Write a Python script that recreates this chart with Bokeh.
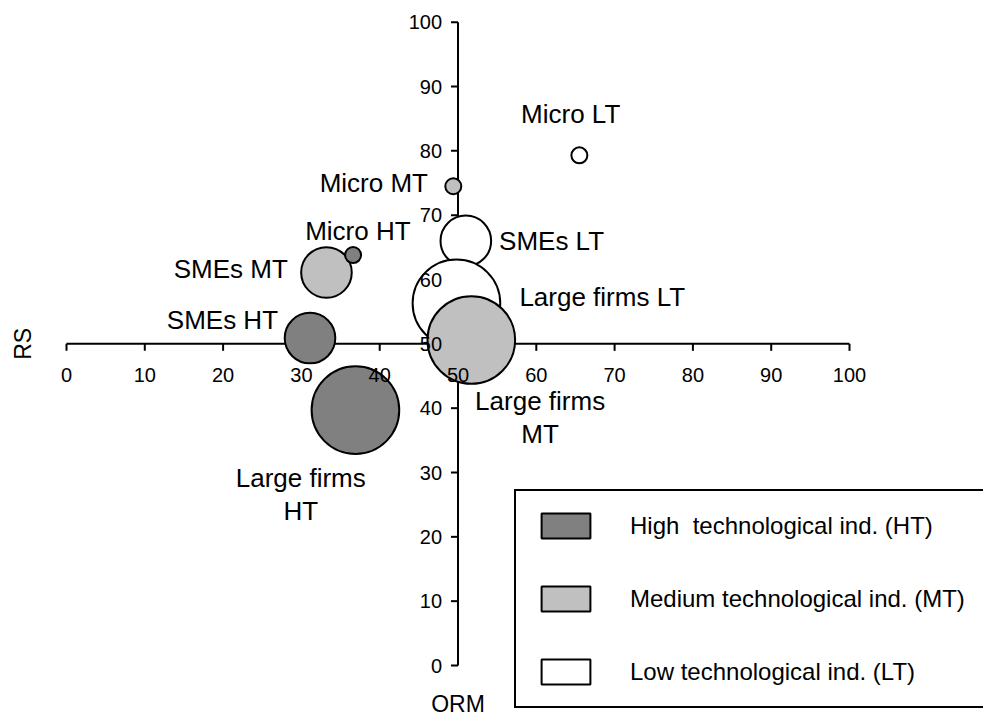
import math
from bokeh.plotting import figure
from bokeh.models import ColumnDataSource, Range1d, Legend, LegendItem
from bokeh.core.properties import value
from bokeh.embed import file_html
from bokeh.resources import INLINE

# ---------------- data ----------------
firm_sizes = ["Micro", "SMEs", "Large firms"]
industries = ["HT", "MT", "LT"]
ht_orm = [36.6, 31.1, 36.9]
ht_rs = [63.8, 50.9, 39.7]
mt_orm = [49.4, 33.2, 51.7]
mt_rs = [74.5, 61.1, 50.6]
lt_orm = [65.5, 51.0, 49.8]
lt_rs = [79.3, 66.0, 56.3]
bubble_weight = [1, 10, 30]          # relative bubble area by firm size
x_ticks = [0, 10, 20, 30, 40, 50, 60, 70, 80, 90, 100]
y_ticks = [0, 10, 20, 30, 40, 50, 60, 70, 80, 90, 100]
x_cross = 50   # x axis crosses the y axis at RS = 50
y_cross = 50   # y axis crosses the x axis at ORM = 50
legend_labels = ["High  technological ind. (HT)",
                 "Medium technological ind. (MT)",
                 "Low technological ind. (LT)"]

# ---------------- styles / layout ----------------
FONT = "Liberation Sans"
fills = {"HT": "#808080", "MT": "#c0c0c0", "LT": "#ffffff"}
W, H = 983, 715
PX0, PX100 = 66.0, 849.0      # canvas px of ORM 0 / 100
PY0, PY100 = 665.0, 21.7      # canvas px of RS 0 / 100
sx = (PX100 - PX0) / 100.0
sy = (PY0 - PY100) / 100.0
x_start = -PX0 / sx
x_end = x_start + W / sx
y_end = 100 + PY100 / sy
y_start = y_end - H / sy

# label offsets (screen px) per industry, per firm size
label_offsets = {
    "HT": [(4.8, -24.3), (-87.6, -18.3), (-54.7, 84.5)],
    "MT": [(-79.5, -3.0), (-95.7, -3.7), (68.8, 78.0)],
    "LT": [(-8.7, -41.0), (85.7, 0.5), (145.8, -6.0)],
}

p = figure(width=W, height=H, output_backend="svg", toolbar_location=None,
           title=None, x_axis_location=None, y_axis_location=None,
           x_range=Range1d(x_start, x_end), y_range=Range1d(y_start, y_end),
           min_border=0, outline_line_color=None)
p.xgrid.visible = False
p.ygrid.visible = False
p.background_fill_color = "white"
p.border_fill_color = "white"

# axes drawn crossing at the centre
p.segment(x0=[x_ticks[0]], y0=[x_cross], x1=[x_ticks[-1]], y1=[x_cross],
          line_color="black", line_width=2)
p.segment(x0=[y_cross], y0=[y_ticks[0]], x1=[y_cross], y1=[y_ticks[-1]],
          line_color="black", line_width=2)
p.ray(x=x_ticks, y=[x_cross] * len(x_ticks), length=7, length_units="screen",
      angle=-math.pi / 2, line_color="black", line_width=2)
p.ray(x=[y_cross] * len(y_ticks), y=y_ticks, length=7, length_units="screen",
      angle=math.pi, line_color="black", line_width=2)

# bubbles: LT first, then MT, then HT on top
series = {"HT": (ht_orm, ht_rs), "MT": (mt_orm, mt_rs), "LT": (lt_orm, lt_rs)}
diam = [16 * math.sqrt(w) for w in bubble_weight]
for ind in ["LT", "MT", "HT"]:
    xs, ys = series[ind]
    src = ColumnDataSource(dict(x=xs, y=ys, d=diam))
    p.scatter("x", "y", size="d", source=src, marker="circle",
              fill_color=fills[ind], line_color="black", line_width=2)

# tick labels (over bubbles)
p.text(x=x_ticks, y=[x_cross] * len(x_ticks), text=[str(t) for t in x_ticks],
       y_offset=31, text_align="center", text_baseline="middle",
       text_font=value(FONT), text_font_size="20px", text_color="black")
p.text(x=[y_cross] * len(y_ticks), y=y_ticks, text=[str(t) for t in y_ticks],
       x_offset=-16, text_align="right", text_baseline="middle",
       text_font=value(FONT), text_font_size="20px", text_color="black")

# axis titles
p.text(x=[y_cross], y=[y_ticks[0]], text=["ORM"], y_offset=38,
       text_align="center", text_baseline="middle",
       text_font=value(FONT), text_font_size="23px", text_color="black")
p.text(x=[x_ticks[0]], y=[x_cross], text=["RS"], x_offset=-43.5, angle=math.pi / 2,
       text_align="center", text_baseline="middle",
       text_font=value(FONT), text_font_size="23px", text_color="black")

# bubble labels
lx, ly, lt, ldx, ldy = [], [], [], [], []
for ind in industries:
    xs, ys = series[ind]
    for i, fs in enumerate(firm_sizes):
        lx.append(xs[i]); ly.append(ys[i])
        lt.append(f"{fs}\n{ind}" if fs == "Large firms" and ind != "LT" else f"{fs} {ind}")
        ldx.append(label_offsets[ind][i][0]); ldy.append(label_offsets[ind][i][1])
lsrc = ColumnDataSource(dict(x=lx, y=ly, t=lt, dx=ldx, dy=ldy))
p.text("x", "y", text="t", x_offset="dx", y_offset="dy", source=lsrc,
       text_align="center", text_baseline="middle", text_line_height=1.1,
       text_font=value(FONT), text_font_size="26px", text_color="black")

# legend (swatch renderers are hidden; only their legend glyphs show)
items = []
for lab, ind in zip(legend_labels, industries):
    r = p.quad(left=[0], right=[0], top=[0], bottom=[0], fill_color=fills[ind],
               line_color="black", line_width=2, visible=False)
    items.append(LegendItem(label=lab, renderers=[r]))
legend = Legend(items=items, location=(514, 7), orientation="vertical",
                glyph_width=61, glyph_height=31, label_height=31,
                label_width=420, spacing=42, padding=19, label_standoff=34,
                label_text_font=FONT, label_text_font_size="24px",
                label_text_color="black",
                label_text_baseline="middle", border_line_color="black",
                border_line_alpha=1.0, border_line_width=2,
                background_fill_color="white", background_fill_alpha=1.0,
                inactive_fill_alpha=0.0, margin=0)
p.add_layout(legend)

open("out.html", "w").write(file_html(p, INLINE))
